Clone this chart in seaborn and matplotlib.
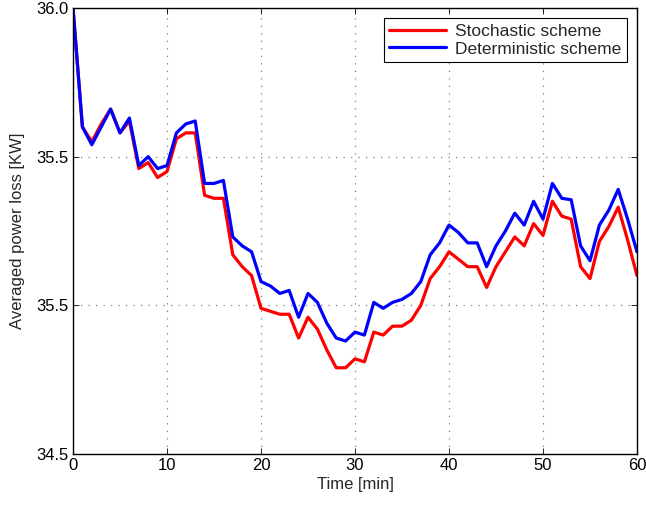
import matplotlib
matplotlib.use("Agg")
import matplotlib.pyplot as plt
import numpy as np
import pandas as pd
import seaborn as sns

# per-minute averaged power loss
time_min = list(range(61))
stochastic = [36.00, 35.60, 35.55, 35.61, 35.66, 35.58, 35.62, 35.46, 35.48, 35.43,
              35.45, 35.56, 35.58, 35.58, 35.37, 35.36, 35.36, 35.17, 35.13, 35.10,
              34.99, 34.98, 34.97, 34.97, 34.89, 34.96, 34.92, 34.85, 34.79, 34.79,
              34.82, 34.81, 34.91, 34.90, 34.93, 34.93, 34.95, 35.00, 35.09, 35.13,
              35.18, 35.155, 35.13, 35.13, 35.06, 35.13, 35.18, 35.23, 35.20, 35.275,
              35.235, 35.35, 35.30, 35.29, 35.13, 35.09, 35.215, 35.265, 35.33, 35.22,
              35.10]
deterministic = [36.00, 35.60, 35.54, 35.60, 35.66, 35.58, 35.63, 35.47, 35.50, 35.46,
                 35.47, 35.58, 35.61, 35.62, 35.41, 35.41, 35.42, 35.23, 35.20, 35.18,
                 35.08, 35.065, 35.04, 35.05, 34.96, 35.04, 35.01, 34.94, 34.89, 34.88,
                 34.91, 34.90, 35.01, 34.99, 35.01, 35.02, 35.04, 35.08, 35.17, 35.21,
                 35.27, 35.245, 35.21, 35.21, 35.13, 35.20, 35.25, 35.31, 35.27, 35.35,
                 35.29, 35.41, 35.36, 35.355, 35.20, 35.15, 35.27, 35.32, 35.39, 35.29,
                 35.18]
series_names = ["Stochastic scheme", "Deterministic scheme"]
y_ticks = [34.5, 35.0, 35.5, 36.0]
y_tick_labels = ["34.5", "35.5", "35.5", "36.0"]
x_ticks = [0, 10, 20, 30, 40, 50, 60]

df = pd.DataFrame({
    "time": time_min * 2,
    "loss": stochastic + deterministic,
    "scheme": [series_names[0]] * 61 + [series_names[1]] * 61,
})

sns.set_style("ticks")
plt.rcParams["font.family"] = ["Liberation Sans", "DejaVu Sans"]
plt.rcParams["font.size"] = 12

fig = plt.figure(figsize=(6.46, 5.05), dpi=100)
ax = fig.add_axes([73 / 646, 51 / 505, 564 / 646, 446 / 505])

sns.lineplot(data=df, x="time", y="loss", hue="scheme",
             palette={series_names[0]: "#ff0000", series_names[1]: "#0000ff"},
             linewidth=2.3, ax=ax)

ax.set_xlim(0, 60)
ax.set_ylim(34.5, 36.0)
ax.set_xticks(x_ticks)
ax.set_yticks(y_ticks)
ax.set_yticklabels(y_tick_labels)
ax.grid(True, linestyle=(0, (1, 5)), color="#808080", linewidth=0.9)
ax.tick_params(direction="in", top=True, right=True, length=4, width=0.6,
               labelsize=12, colors="black", pad=3)
for s in ax.spines.values():
    s.set_linewidth(1.0)
    s.set_color("black")
ax.set_xlabel("Time [min]", fontsize=12, labelpad=3)
ax.set_ylabel("Averaged power loss [KW]", fontsize=12, labelpad=8)

leg = ax.legend(loc="upper right", fontsize=12.5, frameon=True, fancybox=False,
                edgecolor="black", framealpha=1, borderpad=0.3, handlelength=3.3,
                labelspacing=0.15, borderaxespad=0.6, handletextpad=0.5)
leg.get_frame().set_linewidth(0.8)
for line in leg.get_lines():
    line.set_linewidth(2.3)

fig.savefig("out.png", dpi=100)
